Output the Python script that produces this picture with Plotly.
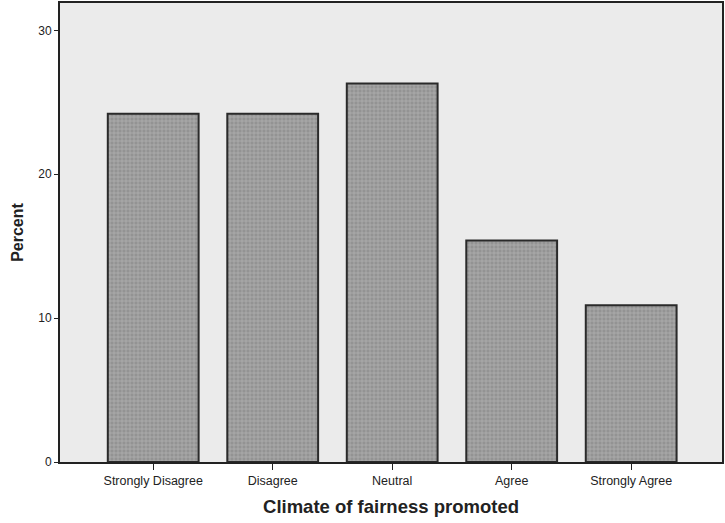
import plotly.graph_objects as go

categories = ["Strongly Disagree", "Disagree", "Neutral", "Agree", "Strongly Agree"]
percent = [24.2, 24.2, 26.3, 15.4, 10.9]
y_ticks = [0, 10, 20, 30]

fig = go.Figure()

fig.add_trace(go.Bar(
    x=list(range(len(categories))),
    y=percent,
    width=0.76,
    marker=dict(
        color="#a0a0a0",
        line=dict(color="#2a2a2a", width=2),
        pattern=dict(shape="+", fgcolor="#d4d4d4", bgcolor="#939393", size=4, solidity=0.3),
    ),
    hoverinfo="skip",
))

fig.update_layout(
    width=725,
    height=523,
    margin=dict(l=60, r=1, t=3, b=61),
    paper_bgcolor="white",
    plot_bgcolor="#ebebeb",
    showlegend=False,
    font=dict(family="Liberation Sans, Arial, sans-serif", color="#222"),
)

fig.update_xaxes(
    range=[-0.78, 4.76],
    tickmode="array",
    tickvals=list(range(len(categories))),
    ticktext=categories,
    ticks="outside",
    ticklen=6,
    tickcolor="#222",
    tickfont=dict(size=12.5),
    showgrid=False,
    zeroline=False,
    showline=True,
    linecolor="#222",
    linewidth=2,
    mirror=True,
    title=dict(text="<b>Climate of fairness promoted</b>", font=dict(size=18.5), standoff=13),
)

fig.update_yaxes(
    range=[0, 31.9],
    tickmode="array",
    tickvals=y_ticks,
    ticks="outside",
    ticklen=4,
    tickcolor="#222",
    tickfont=dict(size=12),
    showgrid=False,
    zeroline=False,
    showline=True,
    linecolor="#222",
    linewidth=2,
    mirror=True,
    title=dict(text="<b>Percent</b>", font=dict(size=16), standoff=11),
)

fig.write_html("out.html", config={"displayModeBar": False},
               post_script="document.body.style.margin='0';")
